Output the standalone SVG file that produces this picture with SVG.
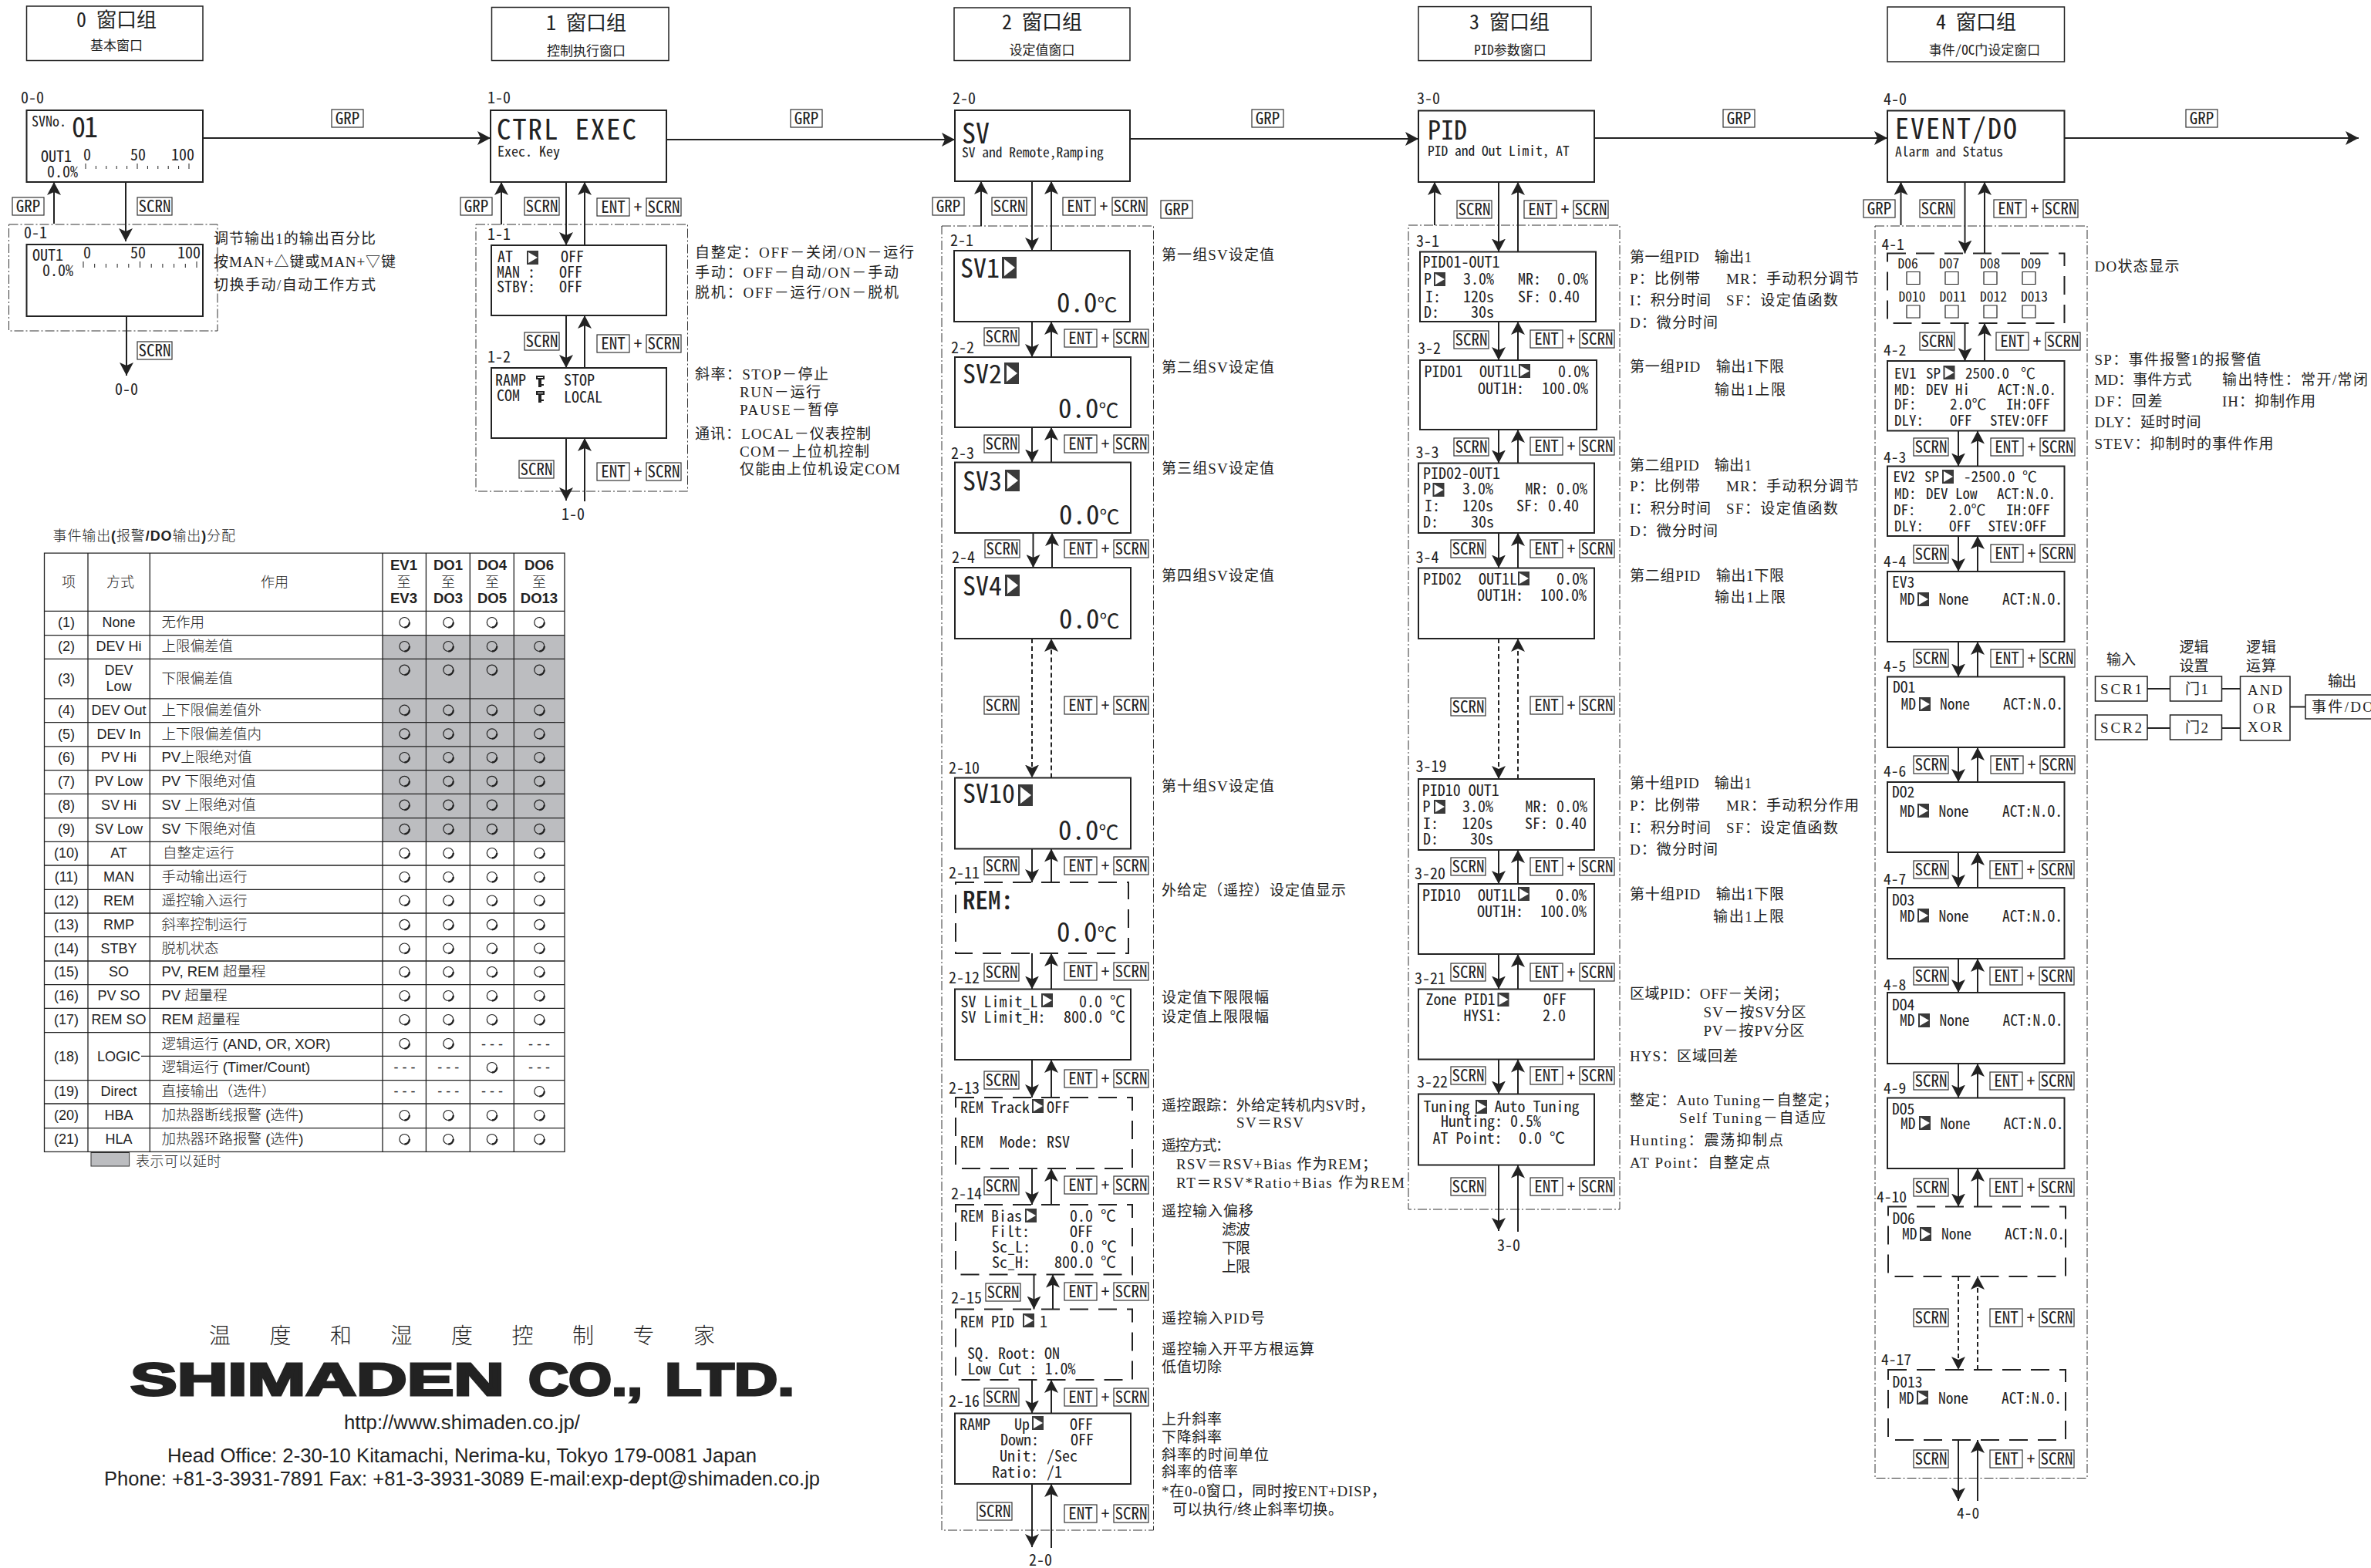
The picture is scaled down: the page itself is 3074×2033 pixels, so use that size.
<svg xmlns="http://www.w3.org/2000/svg" width="3074" height="2033" viewBox="0 0 3074 2033" font-size="20">
<style>
svg{font-family:"Noto Sans CJK JP","Noto Sans CJK SC",sans-serif;font-feature-settings:"hwid";background:#fff}
text{fill:#222}
.n{fill:#fff;stroke:#222;stroke-width:2}
.nd{fill:#fff;stroke:#222;stroke-width:2;stroke-dasharray:24 13}
.b{fill:none;stroke:#333;stroke-width:1;stroke-dasharray:12 3 2 3}
.t{fill:#fff;stroke:#222;stroke-width:1.5}
.tc text{text-anchor:middle}
.tc .s{font-size:26px}
.a{font-family:"Liberation Serif","Noto Sans CJK SC",serif;font-size:19px;font-feature-settings:normal}
#conn path{fill:none;stroke:#222;stroke-width:2;marker-end:url(#ah)}
#conn path.d{stroke-dasharray:6 4}
#conn path.l{marker-end:none}
.K text{text-anchor:middle;font-size:21px}
.K rect{fill:#fff;stroke:#333;stroke-width:1.2}
rect.ks{width:45px;height:23px}
rect.ke{width:42px;height:23px}
rect.kg{width:41px;height:23px}
.T{font-family:"Liberation Sans","Noto Sans CJK SC",sans-serif;font-size:18px;font-feature-settings:normal}
.T .c text,.T .h text{text-anchor:middle}
.T .h text{font-size:18.5px;font-weight:bold}
.T .z text{font-size:18px;font-weight:300}
.T .w text{font-size:18.5px;font-weight:300}
.Lg{font-family:"Liberation Sans",sans-serif;font-size:25px;font-feature-settings:normal;text-anchor:middle}
</style>
<defs>
<marker id="ah" markerUnits="userSpaceOnUse" markerWidth="18" markerHeight="18" refX="17" refY="9" orient="auto"><path d="M0,0L17,9L0,18L4,9Z" fill="#222"/></marker>
<g id="ab"><rect width="19" height="28" fill="#3a3a3a"/><path d="M3,3L17,14L3,25Z" fill="#fff"/></g>
<g id="as"><rect width="15" height="18" fill="#3a3a3a"/><path d="M2,2L14,9L2,16Z" fill="#fff"/></g>
<path id="key" d="M0 0h11v5h-11zM2 2v1h7v-1zM3 5h4v6h3v2h-3v2h-4z" fill-rule="evenodd" fill="#222"/>
<g id="o"><circle r="6.5" fill="none" stroke="#222" stroke-width="1.2"/><path d="M6.5,0A6.5,6.5 0 0 1 0,6.5" fill="none" stroke="#222" stroke-width="2.4"/></g>
<g id="r"><use href="#o" x="524.4"/><use href="#o" x="581.3"/><use href="#o" x="637.8"/><use href="#o" x="699.3"/></g>
</defs>
<g id="frames">
<rect class="b" x="11.5" y="291" width="270.500" height="138"/>
<rect class="b" x="617" y="291" width="274.500" height="346"/>
<rect class="b" x="1221" y="293" width="274.500" height="1691"/>
<rect class="b" x="1826" y="292" width="274" height="1276"/>
<rect class="b" x="2431" y="293" width="275" height="1623.500"/>
</g>
<g class="tc">
<g id="title0"><rect class="t" x="34.500" y="8" width="228.500" height="70.500"/><text x="151" y="35" class="s">0 窗口组</text><text x="151" y="65" font-size="17">基本窗口</text></g>
<g id="title1"><rect class="t" x="637.500" y="9.500" width="229.500" height="69"/><text x="760" y="39" class="s">1 窗口组</text><text x="760" y="72" font-size="17">控制执行窗口</text></g>
<g id="title2"><rect class="t" x="1237" y="10" width="228" height="68.500"/><text x="1351" y="38" class="s">2 窗口组</text><text x="1351" y="71" font-size="17">设定值窗口</text></g>
<g id="title3"><rect class="t" x="1839" y="8.600" width="224" height="70"/><text x="1957" y="38" class="s">3 窗口组</text><text x="1958" y="71" font-size="17">PID参数窗口</text></g>
<g id="title4"><rect class="t" x="2447" y="9" width="229.500" height="71"/><text x="2562" y="38" class="s">4 窗口组</text><text x="2573" y="71" font-size="17">事件/OC门设定窗口</text></g>
</g>
<g id="n0-0"><text x="27" y="134">0-0</text><rect class="n" x="34.500" y="143" width="228.500" height="93"/><text x="41" y="164" font-size="18">SVNo.</text><text x="93" y="178" font-size="36" letter-spacing="-2">01</text><text x="53" y="210">OUT1</text><text x="108" y="208">0</text><text x="169" y="208">50</text><text x="222" y="208">100</text><text x="61" y="230">0.0%</text><path d="M111 212v7M124.400 215v4M137.800 215v4M151.200 215v4M164.600 215v4M178 212v7M191.400 215v4M204.800 215v4M218.200 215v4M231.600 215v4M245 212v7" stroke="#222" fill="none"/></g>
<g id="n0-1"><text x="31" y="309">0-1</text><rect class="n" x="34.500" y="317" width="228.500" height="93"/><text x="42" y="338">OUT1</text><text x="108" y="335">0</text><text x="169" y="335">50</text><text x="230" y="335">100</text><text x="55" y="358">0.0%</text><path d="M108 339v8M122.700 342v5M137.400 342v5M152.100 342v5M166.800 342v5M181.500 339v8M196.200 342v5M210.900 342v5M225.600 342v5M240.300 342v5M255 339v8" stroke="#222" fill="none"/></g>
<text x="149" y="512">0-0</text>
<g id="n1-0"><text x="632" y="134">1-0</text><rect class="n" x="636" y="143" width="228" height="93"/><text x="644" y="181" font-size="37" letter-spacing="1.800">CTRL EXEC</text><text x="645" y="203" font-size="18">Exec. Key</text></g>
<g id="n1-1"><text x="632" y="311">1-1</text><rect class="n" x="637" y="318" width="227" height="91"/><text x="645" y="340">AT</text><use href="#as" x="683" y="325"/><text x="727" y="340">OFF</text><text x="644" y="360">MAN :</text><text x="725" y="360">OFF</text><text x="644" y="379">STBY:</text><text x="725" y="379">OFF</text></g>
<g id="n1-2"><text x="632" y="470">1-2</text><rect class="n" x="637" y="477" width="227" height="91"/><text x="642" y="499.500">RAMP</text><use href="#key" x="695" y="487"/><text x="731" y="499.500">STOP</text><text x="644" y="520">COM</text><use href="#key" x="695" y="507"/><text x="731" y="522">LOCAL</text></g>
<text x="728" y="674">1-0</text>
<g id="n2-0"><text x="1235" y="135">2-0</text><rect class="n" x="1238" y="143" width="227" height="92"/><text x="1247" y="186" font-size="36">SV</text><text x="1247" y="204" font-size="17.500">SV and Remote,Ramping</text></g>
<g id="n2-1"><text x="1232" y="319">2-1</text><rect class="n" x="1237" y="325" width="228" height="92"/><text x="1245" y="360" font-size="34">SV1</text><use href="#ab" x="1299" y="333"/><text x="1370" y="405" font-size="35">0.0<tspan font-size="26">℃</tspan></text></g>
<g id="n2-2"><text x="1233" y="458">2-2</text><rect class="n" x="1238" y="463" width="228" height="91"/><text x="1248" y="497" font-size="34">SV2</text><use href="#ab" x="1302" y="470"/><text x="1372" y="542" font-size="35">0.0<tspan font-size="26">℃</tspan></text></g>
<g id="n2-3"><text x="1233" y="595">2-3</text><rect class="n" x="1238" y="599.500" width="228" height="91.500"/><text x="1248" y="636" font-size="34">SV3</text><use href="#ab" x="1303" y="609"/><text x="1373" y="680" font-size="35">0.0<tspan font-size="26">℃</tspan></text></g>
<g id="n2-4"><text x="1234" y="730">2-4</text><rect class="n" x="1238" y="736" width="228" height="92"/><text x="1248" y="772" font-size="34">SV4</text><use href="#ab" x="1303" y="745"/><text x="1373" y="815" font-size="35">0.0<tspan font-size="26">℃</tspan></text></g>
<g id="n2-10"><text x="1230" y="1003">2-10</text><rect class="n" x="1238" y="1008.500" width="228" height="92"/><text x="1248" y="1041" font-size="34">SV10</text><use href="#ab" x="1320" y="1017"/><text x="1372" y="1089" font-size="35">0.0<tspan font-size="26">℃</tspan></text></g>
<g id="n2-11"><text x="1230" y="1139">2-11</text><rect class="nd" x="1239" y="1144" width="224" height="92"/><text x="1248" y="1179" font-size="33" font-weight="500">REM:</text><text x="1370" y="1221" font-size="35">0.0<tspan font-size="26">℃</tspan></text></g>
<g id="n2-12"><text x="1230" y="1275">2-12</text><rect class="n" x="1238" y="1282.500" width="228" height="91.500"/><text x="1245.500" y="1305.500">SV Limit_L</text><use href="#as" x="1350" y="1288"/><text x="1399" y="1305.500">0.0 ℃</text><text x="1245.500" y="1326">SV Limit_H:</text><text x="1379" y="1326">800.0 ℃</text></g>
<g id="n2-13"><text x="1230" y="1417.500">2-13</text><rect class="nd" x="1239" y="1423" width="229" height="92"/><text x="1245" y="1443">REM Track</text><use href="#as" x="1338" y="1425"/><text x="1357" y="1443">OFF</text><text x="1245" y="1487.500">REM</text><text x="1296" y="1487.500">Mode:</text><text x="1357" y="1487.500">RSV</text></g>
<g id="n2-14"><text x="1233" y="1555">2-14</text><rect class="nd" x="1239" y="1562" width="229" height="90.500"/><text x="1245" y="1584">REM</text><text x="1285" y="1584">Bias</text><use href="#as" x="1329" y="1567"/><text x="1387" y="1584">0.0 ℃</text><text x="1285" y="1604">Filt:</text><text x="1387" y="1604">OFF</text><text x="1286" y="1624">Sc_L:</text><text x="1388" y="1624">0.0 ℃</text><text x="1286" y="1644">Sc_H:</text><text x="1367" y="1644">800.0 ℃</text></g>
<g id="n2-15"><text x="1233" y="1690">2-15</text><rect class="nd" x="1239" y="1697.500" width="229" height="91.500"/><text x="1245" y="1721">REM PID</text><use href="#as" x="1326" y="1703"/><text x="1348" y="1721">1</text><text x="1254" y="1762">SQ. Root: ON</text><text x="1254.500" y="1782">Low Cut : 1.0%</text></g>
<g id="n2-16"><text x="1230" y="1824">2-16</text><rect class="n" x="1238" y="1832.500" width="228" height="91.500"/><text x="1244" y="1854">RAMP</text><text x="1315" y="1854">Up</text><use href="#as" x="1338" y="1836"/><text x="1387" y="1854">OFF</text><text x="1297" y="1874">Down:</text><text x="1388" y="1874">OFF</text><text x="1296" y="1895">Unit:</text><text x="1357" y="1895">/Sec</text><text x="1286" y="1916">Ratio:</text><text x="1357" y="1916">/1</text></g>
<text x="1334" y="2030">2-0</text>
<g id="n3-0"><text x="1837" y="135">3-0</text><rect class="n" x="1839" y="143.500" width="228" height="92.500"/><text x="1851" y="181" font-size="34">PID</text><text x="1851" y="202" font-size="17.500">PID and Out Limit, AT</text></g>
<g id="n3-1"><text x="1836" y="320">3-1</text><rect class="n" x="1841" y="326.500" width="228" height="90.500"/><text x="1844.500" y="347">PID01-OUT1</text><text x="1846" y="369">P</text><use href="#as" x="1859" y="353"/><text x="1897" y="369">3.0%</text><text x="1968" y="369">MR:</text><text x="2019" y="369">0.0%</text><text x="1848" y="392">I:</text><text x="1897" y="392">120s</text><text x="1968" y="392">SF:</text><text x="2008" y="392">0.40</text><text x="1846" y="412">D:</text><text x="1907" y="412">30s</text></g>
<g id="n3-2"><text x="1838" y="459">3-2</text><rect class="n" x="1841" y="467" width="229" height="90"/><text x="1846.500" y="489">PID01</text><text x="1918" y="489">OUT1L</text><use href="#as" x="1969" y="472"/><text x="2020" y="489">0.0%</text><text x="1916" y="511">OUT1H:</text><text x="1999" y="511">100.0%</text></g>
<g id="n3-3"><text x="1835.500" y="593.500">3-3</text><rect class="n" x="1839" y="600.500" width="228" height="90.500"/><text x="1845" y="621">PID02-OUT1</text><text x="1845" y="641">P</text><use href="#as" x="1857.500" y="626"/><text x="1896" y="641">3.0%</text><text x="1977.500" y="641">MR:</text><text x="2018" y="641">0.0%</text><text x="1847" y="663">I:</text><text x="1896" y="663">120s</text><text x="1966" y="663">SF:</text><text x="2007" y="663">0.40</text><text x="1845" y="684">D:</text><text x="1907" y="684">30s</text></g>
<g id="n3-4"><text x="1835.500" y="730">3-4</text><rect class="n" x="1839" y="736.500" width="228" height="91.500"/><text x="1845" y="758">PID02</text><text x="1917" y="758">OUT1L</text><use href="#as" x="1968" y="741"/><text x="2018" y="758">0.0%</text><text x="1915" y="779">OUT1H:</text><text x="1997" y="779">100.0%</text></g>
<g id="n3-19"><text x="1835.500" y="1001">3-19</text><rect class="n" x="1839" y="1010" width="228" height="92"/><text x="1843.700" y="1032">PID10 OUT1</text><text x="1844.500" y="1053">P</text><use href="#as" x="1859" y="1037"/><text x="1896" y="1053">3.0%</text><text x="1977.500" y="1053">MR:</text><text x="2018" y="1053">0.0%</text><text x="1845" y="1074.500">I:</text><text x="1895.500" y="1074.500">120s</text><text x="1977" y="1074.500">SF:</text><text x="2017" y="1074.500">0.40</text><text x="1845" y="1095">D:</text><text x="1906" y="1095">30s</text></g>
<g id="n3-20"><text x="1834" y="1140">3-20</text><rect class="n" x="1839" y="1146" width="228" height="91"/><text x="1844" y="1167.500">PID10</text><text x="1916" y="1167.500">OUT1L</text><use href="#as" x="1968" y="1150"/><text x="2017" y="1167.500">0.0%</text><text x="1915" y="1189">OUT1H:</text><text x="1997" y="1189">100.0%</text></g>
<g id="n3-21"><text x="1834" y="1275.500">3-21</text><rect class="n" x="1839" y="1282.500" width="228" height="91"/><text x="1848.500" y="1303">Zone PID1</text><use href="#as" x="1941.500" y="1287"/><text x="2001" y="1303">OFF</text><text x="1897.500" y="1324">HYS1:</text><text x="2000" y="1324">2.0</text></g>
<g id="n3-22"><text x="1837" y="1410">3-22</text><rect class="n" x="1839" y="1418.500" width="228" height="92"/><text x="1845.500" y="1441.500">Tuning</text><use href="#as" x="1913" y="1426"/><text x="1937.500" y="1441.500">Auto Tuning</text><text x="1868" y="1461">Hunting: 0.5%</text><text x="1857.500" y="1483">AT Point:</text><text x="1969" y="1483">0.0 ℃</text></g>
<text x="1941" y="1622">3-0</text>
<g id="n4-0"><text x="2442" y="136">4-0</text><rect class="n" x="2447" y="143.500" width="229.500" height="92.500"/><text x="2457" y="180" font-size="36" letter-spacing="2">EVENT/DO</text><text x="2457" y="203" font-size="17.500">Alarm and Status</text></g>
<g id="n4-1" font-size="17.500"><text x="2439.500" y="324" font-size="19.500">4-1</text><rect class="nd" x="2447" y="328.500" width="229.500" height="90.500"/><text x="2460.500" y="347.500">D06</text><text x="2514" y="347.500">D07</text><text x="2567" y="347.500">D08</text><text x="2620" y="347.500">D09</text><text x="2461.500" y="391">D010</text><text x="2514.500" y="391">D011</text><text x="2567" y="391">D012</text><text x="2620" y="391">D013</text><path d="M2472 352.500h17v16h-17zM2522 352.500h17v16h-17zM2572 352.500h17v16h-17zM2622 352.500h17v16h-17zM2472 396h17v16h-17zM2522 396h17v16h-17zM2572 396h17v16h-17zM2622 396h17v16h-17z" fill="none" stroke="#222" stroke-width="1.200"/></g>
<g id="n4-2" font-size="19"><text x="2442" y="461" font-size="19.500">4-2</text><rect class="n" x="2447" y="468" width="229.500" height="90.500"/><text x="2456" y="491">EV1</text><text x="2497" y="491">SP</text><use href="#as" x="2519.500" y="474"/><text x="2548" y="491">2500.0</text><text x="2620" y="491">℃</text><text x="2456" y="511.500">MD:</text><text x="2497" y="511.500">DEV Hi</text><text x="2590" y="511.500">ACT:N.O.</text><text x="2456" y="531">DF:</text><text x="2528" y="531">2.0℃</text><text x="2601" y="531">IH:OFF</text><text x="2456" y="551.500">DLY:</text><text x="2528" y="551.500">OFF</text><text x="2580" y="551.500">STEV:OFF</text></g>
<g id="n4-3" font-size="19"><text x="2442" y="599.500" font-size="19.500">4-3</text><rect class="n" x="2447" y="604.500" width="229.500" height="90.500"/><text x="2454.500" y="625">EV2</text><text x="2495" y="625">SP</text><use href="#as" x="2518" y="609"/><text x="2546" y="625">-2500.0</text><text x="2622" y="625">℃</text><text x="2456" y="647">MD:</text><text x="2497" y="647">DEV Low</text><text x="2589" y="647">ACT:N.O.</text><text x="2455" y="667.500">DF:</text><text x="2527" y="667.500">2.0℃</text><text x="2601" y="667.500">IH:OFF</text><text x="2456" y="688.500">DLY:</text><text x="2527" y="688.500">OFF</text><text x="2577.500" y="688.500">STEV:OFF</text></g>
<g id="n4-4" font-size="19.500"><text x="2442" y="734.500">4-4</text><rect class="n" x="2447" y="741" width="229.500" height="91"/><text x="2453" y="762">EV3</text><text x="2463" y="784">MD</text><use href="#as" x="2486" y="768"/><text x="2513.500" y="784">None</text><text x="2596" y="784">ACT:N.O.</text></g>
<g id="n4-5" font-size="19.500"><text x="2442" y="870.500">4-5</text><rect class="n" x="2447" y="877.500" width="229.500" height="91.500"/><text x="2454" y="898">DO1</text><text x="2464.500" y="920">MD</text><use href="#as" x="2488" y="904"/><text x="2515" y="920">None</text><text x="2597" y="920">ACT:N.O.</text></g>
<g id="n4-6" font-size="19.500"><text x="2442" y="1007">4-6</text><rect class="n" x="2447" y="1014" width="229.500" height="91"/><text x="2453" y="1034">DO2</text><text x="2463" y="1058.500">MD</text><use href="#as" x="2486" y="1042"/><text x="2513.500" y="1058.500">None</text><text x="2596" y="1058.500">ACT:N.O.</text></g>
<g id="n4-7" font-size="19.500"><text x="2442" y="1146.500">4-7</text><rect class="n" x="2447" y="1151" width="229.500" height="92"/><text x="2453" y="1173.500">DO3</text><text x="2463" y="1194.500">MD</text><use href="#as" x="2486" y="1178"/><text x="2513.500" y="1194.500">None</text><text x="2596" y="1194.500">ACT:N.O.</text></g>
<g id="n4-8" font-size="19.500"><text x="2442" y="1284">4-8</text><rect class="n" x="2447" y="1287" width="229.500" height="92"/><text x="2453" y="1310">DO4</text><text x="2463" y="1330">MD</text><use href="#as" x="2487" y="1314"/><text x="2514.500" y="1330">None</text><text x="2596.500" y="1330">ACT:N.O.</text></g>
<g id="n4-9" font-size="19.500"><text x="2442" y="1418">4-9</text><rect class="n" x="2447" y="1423.500" width="229.500" height="91.500"/><text x="2453" y="1444.500">DO5</text><text x="2464" y="1463.500">MD</text><use href="#as" x="2488" y="1447"/><text x="2515.500" y="1463.500">None</text><text x="2597.500" y="1463.500">ACT:N.O.</text></g>
<g id="n4-10" font-size="19.500"><text x="2433" y="1559">4-10</text><rect class="nd" x="2448" y="1564.500" width="230" height="90.500"/><text x="2453.500" y="1587">DO6</text><text x="2466" y="1607">MD</text><use href="#as" x="2489" y="1591"/><text x="2517" y="1607">None</text><text x="2599" y="1607">ACT:N.O.</text></g>
<g id="n4-17" font-size="19.500"><text x="2439" y="1770">4-17</text><rect class="nd" x="2448" y="1776" width="230" height="91"/><text x="2453.500" y="1798.500">D013</text><text x="2462" y="1819.500">MD</text><use href="#as" x="2485" y="1803"/><text x="2513" y="1819.500">None</text><text x="2595" y="1819.500">ACT:N.O.</text></g>
<text x="2537" y="1969" font-size="19.500">4-0</text>
<g id="conn">
<path d="M263 179H636"/><path d="M864 181H1238"/><path d="M1465 180H1839"/><path d="M2067 179H2447"/><path d="M2676 179H3058"/>
<path d="M70 290V236"/><path d="M163 236V313"/><path d="M164 410V487"/>
<path d="M650 291V236"/><path d="M734 236V318"/><path d="M758 318V236"/><path d="M734 409V477"/><path d="M758 477V409"/><path d="M734 568V649"/><path d="M758 650V568"/>
<path d="M1272 293V235"/><path d="M1338 235V325"/><path d="M1363 325V235"/>
<path d="M1338 417V463"/><path d="M1363 463V417"/><path d="M1338 554V599.500"/><path d="M1363 599.500V554"/><path d="M1339.500 691V736"/><path d="M1364 736V691"/>
<path class="d" d="M1338 828V1008.500"/><path class="d" d="M1363 1008.500V828"/>
<path d="M1338 1100.500V1144"/><path d="M1363 1144V1100.500"/><path d="M1338 1236V1282.500"/><path d="M1363 1282.500V1236"/><path d="M1338 1374V1423"/><path d="M1363 1423V1374"/><path d="M1338 1515V1562"/><path d="M1363 1562V1515"/><path d="M1340.500 1652.500V1697.500"/><path d="M1365 1697.500V1652.500"/><path d="M1338 1789V1832.500"/><path d="M1363 1832.500V1789"/><path d="M1338 1924V2006"/><path d="M1363 2007V1924"/>
<path d="M1860 292V236"/><path d="M1943 236V326.500"/><path d="M1968 326.500V236"/><path d="M1943 417V467"/><path d="M1968 467V417"/><path d="M1943 557V600.500"/><path d="M1968 600.500V557"/><path d="M1943 691V736.500"/><path d="M1968 736.500V691"/>
<path class="d" d="M1943 828V1010"/><path class="d" d="M1968 1010V828"/>
<path d="M1943 1102V1146"/><path d="M1968 1146V1102"/><path d="M1943 1237V1282.500"/><path d="M1968 1282.500V1237"/><path d="M1943 1373.500V1418.500"/><path d="M1968 1418.500V1373.500"/><path d="M1943 1510.500V1596"/><path d="M1968 1597V1510.500"/>
<path d="M2464.500 292V236"/><path d="M2547.500 236V328.500"/><path d="M2573 328.500V236"/><path d="M2547.500 419V468"/><path d="M2573 468V419"/>
<path d="M2539 558.500V604.500"/><path d="M2564 604.500V558.500"/><path d="M2539 695V741"/><path d="M2564 741V695"/><path d="M2539 832V877.500"/><path d="M2564 877.500V832"/><path d="M2539 969V1014"/><path d="M2564 1014V969"/><path d="M2539 1105V1151"/><path d="M2564 1151V1105"/><path d="M2539 1243V1287"/><path d="M2564 1287V1243"/><path d="M2539 1379V1423.500"/><path d="M2564 1423.500V1379"/><path d="M2539 1515V1564.500"/><path d="M2564 1564.500V1515"/>
<path class="d" d="M2539 1655V1776"/><path class="d" d="M2564 1776V1655"/><path d="M2539 1867V1946"/><path d="M2564 1946V1867"/>
<path class="l" d="M2784 893H2813.500"/><path class="l" d="M2880.500 893H2904.500"/><path class="l" d="M2784 944H2813.500"/><path class="l" d="M2880.500 944H2904.500"/><path class="l" d="M2969 916.500H2989"/>
</g>
<g id="keys" class="K">
<g transform="translate(430,142)"><rect class="kg"/><text x="20.500" y="18.500">GRP</text></g>
<g transform="translate(1025,142)"><rect class="kg"/><text x="20.500" y="18.500">GRP</text></g>
<g transform="translate(1623,142)"><rect class="kg"/><text x="20.500" y="18.500">GRP</text></g>
<g transform="translate(2234,142)"><rect class="kg"/><text x="20.500" y="18.500">GRP</text></g>
<g transform="translate(2834,142)"><rect class="kg"/><text x="20.500" y="18.500">GRP</text></g>
<g transform="translate(16,256)"><rect class="kg"/><text x="20.500" y="18.500">GRP</text></g>
<g transform="translate(597,256)"><rect class="kg"/><text x="20.500" y="18.500">GRP</text></g>
<g transform="translate(1209,256)"><rect class="kg"/><text x="20.500" y="18.500">GRP</text></g>
<g transform="translate(1505,260)"><rect class="kg"/><text x="20.500" y="18.500">GRP</text></g>
<g transform="translate(2416,259)"><rect class="kg"/><text x="20.500" y="18.500">GRP</text></g>
<g transform="translate(178,256)"><rect class="ks"/><text x="22.500" y="18.500">SCRN</text></g>
<g transform="translate(178,443)"><rect class="ks"/><text x="22.500" y="18.500">SCRN</text></g>
<g transform="translate(680,256)"><rect class="ks"/><text x="22.500" y="18.500">SCRN</text></g>
<g transform="translate(680,431)"><rect class="ks"/><text x="22.500" y="18.500">SCRN</text></g>
<g transform="translate(673,597)"><rect class="ks"/><text x="22.500" y="18.500">SCRN</text></g>
<g transform="translate(1286,256)"><rect class="ks"/><text x="22.500" y="18.500">SCRN</text></g>
<g transform="translate(1276,425)"><rect class="ks"/><text x="22.500" y="18.500">SCRN</text></g>
<g transform="translate(1276,564)"><rect class="ks"/><text x="22.500" y="18.500">SCRN</text></g>
<g transform="translate(1277,700)"><rect class="ks"/><text x="22.500" y="18.500">SCRN</text></g>
<g transform="translate(1276,903)"><rect class="ks"/><text x="22.500" y="18.500">SCRN</text></g>
<g transform="translate(1276,1111)"><rect class="ks"/><text x="22.500" y="18.500">SCRN</text></g>
<g transform="translate(1276,1249)"><rect class="ks"/><text x="22.500" y="18.500">SCRN</text></g>
<g transform="translate(1276,1389)"><rect class="ks"/><text x="22.500" y="18.500">SCRN</text></g>
<g transform="translate(1276,1526)"><rect class="ks"/><text x="22.500" y="18.500">SCRN</text></g>
<g transform="translate(1278,1664)"><rect class="ks"/><text x="22.500" y="18.500">SCRN</text></g>
<g transform="translate(1276,1800)"><rect class="ks"/><text x="22.500" y="18.500">SCRN</text></g>
<g transform="translate(1267,1948)"><rect class="ks"/><text x="22.500" y="18.500">SCRN</text></g>
<g transform="translate(1889,260)"><rect class="ks"/><text x="22.500" y="18.500">SCRN</text></g>
<g transform="translate(1885,429)"><rect class="ks"/><text x="22.500" y="18.500">SCRN</text></g>
<g transform="translate(1885,568)"><rect class="ks"/><text x="22.500" y="18.500">SCRN</text></g>
<g transform="translate(1881,700)"><rect class="ks"/><text x="22.500" y="18.500">SCRN</text></g>
<g transform="translate(1881,905)"><rect class="ks"/><text x="22.500" y="18.500">SCRN</text></g>
<g transform="translate(1881,1112)"><rect class="ks"/><text x="22.500" y="18.500">SCRN</text></g>
<g transform="translate(1881,1249)"><rect class="ks"/><text x="22.500" y="18.500">SCRN</text></g>
<g transform="translate(1881,1383)"><rect class="ks"/><text x="22.500" y="18.500">SCRN</text></g>
<g transform="translate(1881,1527)"><rect class="ks"/><text x="22.500" y="18.500">SCRN</text></g>
<g transform="translate(2489,259)"><rect class="ks"/><text x="22.500" y="18.500">SCRN</text></g>
<g transform="translate(2489,431)"><rect class="ks"/><text x="22.500" y="18.500">SCRN</text></g>
<g transform="translate(2481,568)"><rect class="ks"/><text x="22.500" y="18.500">SCRN</text></g>
<g transform="translate(2481,707)"><rect class="ks"/><text x="22.500" y="18.500">SCRN</text></g>
<g transform="translate(2481,842)"><rect class="ks"/><text x="22.500" y="18.500">SCRN</text></g>
<g transform="translate(2481,980)"><rect class="ks"/><text x="22.500" y="18.500">SCRN</text></g>
<g transform="translate(2481,1116)"><rect class="ks"/><text x="22.500" y="18.500">SCRN</text></g>
<g transform="translate(2481,1254)"><rect class="ks"/><text x="22.500" y="18.500">SCRN</text></g>
<g transform="translate(2481,1390)"><rect class="ks"/><text x="22.500" y="18.500">SCRN</text></g>
<g transform="translate(2481,1528)"><rect class="ks"/><text x="22.500" y="18.500">SCRN</text></g>
<g transform="translate(2481,1697)"><rect class="ks"/><text x="22.500" y="18.500">SCRN</text></g>
<g transform="translate(2481,1880)"><rect class="ks"/><text x="22.500" y="18.500">SCRN</text></g>
<g transform="translate(774,257)"><rect class="ke"/><text x="21" y="18.500">ENT</text><text x="53" y="18.500">+</text><rect class="ks" x="64"/><text x="86.500" y="18.500">SCRN</text></g>
<g transform="translate(774,434)"><rect class="ke"/><text x="21" y="18.500">ENT</text><text x="53" y="18.500">+</text><rect class="ks" x="64"/><text x="86.500" y="18.500">SCRN</text></g>
<g transform="translate(774,600)"><rect class="ke"/><text x="21" y="18.500">ENT</text><text x="53" y="18.500">+</text><rect class="ks" x="64"/><text x="86.500" y="18.500">SCRN</text></g>
<g transform="translate(1378,256)"><rect class="ke"/><text x="21" y="18.500">ENT</text><text x="53" y="18.500">+</text><rect class="ks" x="64"/><text x="86.500" y="18.500">SCRN</text></g>
<g transform="translate(1380,427)"><rect class="ke"/><text x="21" y="18.500">ENT</text><text x="53" y="18.500">+</text><rect class="ks" x="64"/><text x="86.500" y="18.500">SCRN</text></g>
<g transform="translate(1380,564)"><rect class="ke"/><text x="21" y="18.500">ENT</text><text x="53" y="18.500">+</text><rect class="ks" x="64"/><text x="86.500" y="18.500">SCRN</text></g>
<g transform="translate(1380,700)"><rect class="ke"/><text x="21" y="18.500">ENT</text><text x="53" y="18.500">+</text><rect class="ks" x="64"/><text x="86.500" y="18.500">SCRN</text></g>
<g transform="translate(1380,903)"><rect class="ke"/><text x="21" y="18.500">ENT</text><text x="53" y="18.500">+</text><rect class="ks" x="64"/><text x="86.500" y="18.500">SCRN</text></g>
<g transform="translate(1380,1111)"><rect class="ke"/><text x="21" y="18.500">ENT</text><text x="53" y="18.500">+</text><rect class="ks" x="64"/><text x="86.500" y="18.500">SCRN</text></g>
<g transform="translate(1380,1248)"><rect class="ke"/><text x="21" y="18.500">ENT</text><text x="53" y="18.500">+</text><rect class="ks" x="64"/><text x="86.500" y="18.500">SCRN</text></g>
<g transform="translate(1380,1387)"><rect class="ke"/><text x="21" y="18.500">ENT</text><text x="53" y="18.500">+</text><rect class="ks" x="64"/><text x="86.500" y="18.500">SCRN</text></g>
<g transform="translate(1380,1525)"><rect class="ke"/><text x="21" y="18.500">ENT</text><text x="53" y="18.500">+</text><rect class="ks" x="64"/><text x="86.500" y="18.500">SCRN</text></g>
<g transform="translate(1380,1663)"><rect class="ke"/><text x="21" y="18.500">ENT</text><text x="53" y="18.500">+</text><rect class="ks" x="64"/><text x="86.500" y="18.500">SCRN</text></g>
<g transform="translate(1380,1800)"><rect class="ke"/><text x="21" y="18.500">ENT</text><text x="53" y="18.500">+</text><rect class="ks" x="64"/><text x="86.500" y="18.500">SCRN</text></g>
<g transform="translate(1380,1951)"><rect class="ke"/><text x="21" y="18.500">ENT</text><text x="53" y="18.500">+</text><rect class="ks" x="64"/><text x="86.500" y="18.500">SCRN</text></g>
<g transform="translate(1976,260)"><rect class="ke"/><text x="21" y="18.500">ENT</text><text x="53" y="18.500">+</text><rect class="ks" x="64"/><text x="86.500" y="18.500">SCRN</text></g>
<g transform="translate(1984,428)"><rect class="ke"/><text x="21" y="18.500">ENT</text><text x="53" y="18.500">+</text><rect class="ks" x="64"/><text x="86.500" y="18.500">SCRN</text></g>
<g transform="translate(1984,567)"><rect class="ke"/><text x="21" y="18.500">ENT</text><text x="53" y="18.500">+</text><rect class="ks" x="64"/><text x="86.500" y="18.500">SCRN</text></g>
<g transform="translate(1984,700)"><rect class="ke"/><text x="21" y="18.500">ENT</text><text x="53" y="18.500">+</text><rect class="ks" x="64"/><text x="86.500" y="18.500">SCRN</text></g>
<g transform="translate(1984,903)"><rect class="ke"/><text x="21" y="18.500">ENT</text><text x="53" y="18.500">+</text><rect class="ks" x="64"/><text x="86.500" y="18.500">SCRN</text></g>
<g transform="translate(1984,1112)"><rect class="ke"/><text x="21" y="18.500">ENT</text><text x="53" y="18.500">+</text><rect class="ks" x="64"/><text x="86.500" y="18.500">SCRN</text></g>
<g transform="translate(1984,1249)"><rect class="ke"/><text x="21" y="18.500">ENT</text><text x="53" y="18.500">+</text><rect class="ks" x="64"/><text x="86.500" y="18.500">SCRN</text></g>
<g transform="translate(1984,1383)"><rect class="ke"/><text x="21" y="18.500">ENT</text><text x="53" y="18.500">+</text><rect class="ks" x="64"/><text x="86.500" y="18.500">SCRN</text></g>
<g transform="translate(1984,1527)"><rect class="ke"/><text x="21" y="18.500">ENT</text><text x="53" y="18.500">+</text><rect class="ks" x="64"/><text x="86.500" y="18.500">SCRN</text></g>
<g transform="translate(2585,259)"><rect class="ke"/><text x="21" y="18.500">ENT</text><text x="53" y="18.500">+</text><rect class="ks" x="64"/><text x="86.500" y="18.500">SCRN</text></g>
<g transform="translate(2588,431)"><rect class="ke"/><text x="21" y="18.500">ENT</text><text x="53" y="18.500">+</text><rect class="ks" x="64"/><text x="86.500" y="18.500">SCRN</text></g>
<g transform="translate(2581,568)"><rect class="ke"/><text x="21" y="18.500">ENT</text><text x="53" y="18.500">+</text><rect class="ks" x="64"/><text x="86.500" y="18.500">SCRN</text></g>
<g transform="translate(2581,706)"><rect class="ke"/><text x="21" y="18.500">ENT</text><text x="53" y="18.500">+</text><rect class="ks" x="64"/><text x="86.500" y="18.500">SCRN</text></g>
<g transform="translate(2581,842)"><rect class="ke"/><text x="21" y="18.500">ENT</text><text x="53" y="18.500">+</text><rect class="ks" x="64"/><text x="86.500" y="18.500">SCRN</text></g>
<g transform="translate(2581,980)"><rect class="ke"/><text x="21" y="18.500">ENT</text><text x="53" y="18.500">+</text><rect class="ks" x="64"/><text x="86.500" y="18.500">SCRN</text></g>
<g transform="translate(2580,1116)"><rect class="ke"/><text x="21" y="18.500">ENT</text><text x="53" y="18.500">+</text><rect class="ks" x="64"/><text x="86.500" y="18.500">SCRN</text></g>
<g transform="translate(2580,1254)"><rect class="ke"/><text x="21" y="18.500">ENT</text><text x="53" y="18.500">+</text><rect class="ks" x="64"/><text x="86.500" y="18.500">SCRN</text></g>
<g transform="translate(2580,1390)"><rect class="ke"/><text x="21" y="18.500">ENT</text><text x="53" y="18.500">+</text><rect class="ks" x="64"/><text x="86.500" y="18.500">SCRN</text></g>
<g transform="translate(2580,1528)"><rect class="ke"/><text x="21" y="18.500">ENT</text><text x="53" y="18.500">+</text><rect class="ks" x="64"/><text x="86.500" y="18.500">SCRN</text></g>
<g transform="translate(2580,1697)"><rect class="ke"/><text x="21" y="18.500">ENT</text><text x="53" y="18.500">+</text><rect class="ks" x="64"/><text x="86.500" y="18.500">SCRN</text></g>
<g transform="translate(2580,1880)"><rect class="ke"/><text x="21" y="18.500">ENT</text><text x="53" y="18.500">+</text><rect class="ks" x="64"/><text x="86.500" y="18.500">SCRN</text></g>
</g>
<g id="notes" class="a">
<text x="277" y="316" textLength="210">调节输出1的输出百分比</text><text x="277" y="346" textLength="236">按MAN+△键或MAN+▽键</text><text x="277" y="376" textLength="210">切换手动/自动工作方式</text>
<text x="901" y="334" textLength="284">自整定：OFF－关闭/ON－运行</text><text x="901" y="360" textLength="264">手动：OFF－自动/ON－手动</text><text x="901" y="386" textLength="264">脱机：OFF－运行/ON－脱机</text><text x="901" y="492" textLength="173">斜率：STOP－停止</text><text x="959" y="515" textLength="105">RUN－运行</text><text x="959" y="538" textLength="128">PAUSE－暂停</text><text x="901" y="569" textLength="228">通讯：LOCAL－仪表控制</text><text x="959" y="592" textLength="168">COM－上位机控制</text><text x="959" y="615" textLength="208">仅能由上位机设定COM</text>
<text x="1506" y="337" textLength="146">第一组SV设定值</text><text x="1506" y="483" textLength="146">第二组SV设定值</text><text x="1506" y="614" textLength="146">第三组SV设定值</text><text x="1506" y="753" textLength="146">第四组SV设定值</text><text x="1506" y="1026" textLength="146">第十组SV设定值</text>
<text x="1506" y="1161" textLength="239">外给定（遥控）设定值显示</text><text x="1506" y="1300" textLength="139">设定值下限限幅</text><text x="1506" y="1325" textLength="139">设定值上限限幅</text><text x="1506" y="1439.500" textLength="276">遥控跟踪：外给定转机内SV时，</text><text x="1603" y="1462" textLength="87">SV＝RSV</text><text x="1506" y="1492" textLength="89">遥控方式：</text><text x="1525" y="1516" textLength="260">RSV＝RSV+Bias 作为REM；</text><text x="1525" y="1539.500" textLength="296">RT＝RSV*Ratio+Bias 作为REM</text>
<text x="1506" y="1577" textLength="119">遥控输入偏移</text><text x="1584" y="1601" textLength="37">滤波</text><text x="1584" y="1625" textLength="37">下限</text><text x="1584" y="1649" textLength="37">上限</text><text x="1506" y="1716" textLength="134">遥控输入PID号</text><text x="1506" y="1756" textLength="198">遥控输入开平方根运算</text><text x="1506" y="1779" textLength="78">低值切除</text><text x="1506" y="1847" textLength="78">上升斜率</text><text x="1506" y="1869.500" textLength="78">下降斜率</text><text x="1506" y="1893" textLength="139">斜率的时间单位</text><text x="1506" y="1914.500" textLength="99">斜率的倍率</text><text x="1506" y="1939.500" textLength="291">*在0-0窗口，同时按ENT+DISP，</text><text x="1520" y="1964" textLength="221">可以执行/终止斜率切换。</text>
<text x="2113" y="340" textLength="158">第一组PID　输出1</text><text x="2113" y="367.500" textLength="91">P：比例带</text><text x="2238" y="367.500" textLength="172">MR：手动积分调节</text><text x="2113" y="396" textLength="105">I：积分时间</text><text x="2238" y="396" textLength="145">SF：设定值函数</text><text x="2113" y="425" textLength="114">D：微分时间</text><text x="2113" y="482" textLength="200">第一组PID　输出1下限</text><text x="2223" y="512" textLength="92">输出1上限</text>
<text x="2113" y="610" textLength="158">第二组PID　输出1</text><text x="2113" y="637" textLength="91">P：比例带</text><text x="2238" y="637" textLength="172">MR：手动积分调节</text><text x="2113" y="666" textLength="105">I：积分时间</text><text x="2238" y="666" textLength="145">SF：设定值函数</text><text x="2113" y="695" textLength="114">D：微分时间</text><text x="2113" y="753" textLength="200">第二组PID　输出1下限</text><text x="2223" y="781" textLength="92">输出1上限</text>
<text x="2113" y="1022" textLength="158">第十组PID　输出1</text><text x="2113" y="1051" textLength="91">P：比例带</text><text x="2238" y="1051" textLength="172">MR：手动积分作用</text><text x="2113" y="1079.500" textLength="105">I：积分时间</text><text x="2238" y="1079.500" textLength="145">SF：设定值函数</text><text x="2113" y="1107.500" textLength="114">D：微分时间</text><text x="2113" y="1166" textLength="200">第十组PID　输出1下限</text><text x="2221" y="1195" textLength="92">输出1上限</text>
<text x="2113" y="1295" textLength="205">区域PID：OFF－关闭；</text><text x="2208.500" y="1319" textLength="133">SV－按SV分区</text><text x="2208.500" y="1343" textLength="131">PV－按PV分区</text><text x="2113" y="1376" textLength="140">HYS：区域回差</text><text x="2113" y="1433" textLength="270">整定：Auto Tuning－自整定；</text><text x="2177" y="1456" textLength="190">Self Tuning－自适应</text><text x="2113" y="1485" textLength="199">Hunting：震荡抑制点</text><text x="2113" y="1514" textLength="182">AT Point：自整定点</text>
<text x="2715.500" y="351.500" textLength="110">DO状态显示</text><text x="2715.500" y="473" textLength="216">SP：事件报警1的报警值</text><text x="2715.500" y="499" textLength="126">MD：事件方式</text><text x="2881" y="499" textLength="189">输出特性：常开/常闭</text><text x="2715.500" y="527" textLength="88">DF：回差</text><text x="2881" y="527" textLength="121">IH：抑制作用</text><text x="2715.500" y="553.500" textLength="138">DLY：延时时间</text><text x="2715.500" y="581.500" textLength="232">STEV：抑制时的事件作用</text>
<g id="logic">
<text x="2731" y="861.500" textLength="38">输入</text><text x="2825.500" y="846" textLength="38">逻辑</text><text x="2825.500" y="870" textLength="38">设置</text><text x="2912" y="846" textLength="39">逻辑</text><text x="2912" y="870" textLength="39">运算</text><text x="3018" y="889.500" textLength="37">输出</text>
</g>
</g>
<g id="scr1" class="a"><rect class="t" x="2716.500" y="877" width="67.500" height="32"/><text x="2723" y="900" textLength="54">SCR1</text></g>
<g id="scr2" class="a"><rect class="t" x="2716.500" y="927" width="67.500" height="32"/><text x="2723" y="950" textLength="54">SCR2</text></g>
<g id="gate1" class="a"><rect class="t" x="2813.500" y="877" width="67" height="32"/><text x="2833" y="900" textLength="30">门1</text></g>
<g id="gate2" class="a"><rect class="t" x="2813.500" y="927" width="67" height="32"/><text x="2833" y="950" textLength="30">门2</text></g>
<g id="op" class="a"><rect class="t" x="2904.500" y="877" width="64.500" height="83"/><text x="2914" y="901" textLength="45">AND</text><text x="2921" y="925" textLength="30">OR</text><text x="2914" y="949" textLength="45">XOR</text></g>
<g id="out" class="a"><rect class="t" x="2989" y="901" width="90" height="31"/><text x="2997" y="923" textLength="80">事件/DO</text></g>
<g id="table" class="T">
<text x="68.500" y="701" font-weight="300" font-size="18" textLength="236.500">事件输出<tspan font-weight="bold">(</tspan>报警<tspan font-weight="bold">/DO</tspan>输出<tspan font-weight="bold">)</tspan>分配</text>
<rect x="496" y="823.600" width="236" height="267.700" fill="#bcbdc0"/>
<path d="M57.500 717.200H732V1493.400H57.500ZM114 717.200V1493.400M194.300 717.200V1493.400M496 717.200V1493.400M552.400 717.200V1493.400M609.300 717.200V1493.400M666.300 717.200V1493.400M57.500 792.300H732M57.500 823.600H732M57.500 854.300H732M57.500 905.900H732M57.500 936.600H732M57.500 967.900H732M57.500 998.600H732M57.500 1029.300H732M57.500 1060.600H732M57.500 1091.300H732M57.500 1122H732M57.500 1153.300H732M57.500 1184H732M57.500 1214.700H732M57.500 1246H732M57.500 1276.700H732M57.500 1307.400H732M57.500 1338.700H732M183 1369.400H732M57.500 1400.700H732M57.500 1431H732M57.500 1462.600H732" fill="none" stroke="#222" stroke-width="1.300"/>
<g class="c z"><text x="89" y="761">项</text><text x="156" y="761">方式</text><text x="356" y="761">作用</text><text x="523.500" y="761">至</text><text x="581" y="761">至</text><text x="638" y="761">至</text><text x="699" y="761">至</text></g>
<g class="h"><text x="523.500" y="739">EV1</text><text x="523.500" y="782">EV3</text><text x="581" y="739">DO1</text><text x="581" y="782">DO3</text><text x="638" y="739">DO4</text><text x="638" y="782">DO5</text><text x="699" y="739">DO6</text><text x="699" y="782">DO13</text></g>
<g class="c">
<text x="86" y="813">(1)</text><text x="86" y="844">(2)</text><text x="86" y="885.500">(3)</text><text x="86" y="927">(4)</text><text x="86" y="957.500">(5)</text><text x="86" y="988">(6)</text><text x="86" y="1019">(7)</text><text x="86" y="1050">(8)</text><text x="86" y="1081">(9)</text><text x="86" y="1112">(10)</text><text x="86" y="1143">(11)</text><text x="86" y="1173.500">(12)</text><text x="86" y="1205">(13)</text><text x="86" y="1235.500">(14)</text><text x="86" y="1266">(15)</text><text x="86" y="1297">(16)</text><text x="86" y="1328">(17)</text><text x="86" y="1375.500">(18)</text><text x="86" y="1421">(19)</text><text x="86" y="1452">(20)</text><text x="86" y="1483">(21)</text>
<text x="154" y="813">None</text><text x="154" y="844">DEV Hi</text><text x="154" y="875">DEV</text><text x="154" y="895.500">Low</text><text x="154" y="927">DEV Out</text><text x="154" y="957.500">DEV In</text><text x="154" y="988">PV Hi</text><text x="154" y="1019">PV Low</text><text x="154" y="1050">SV Hi</text><text x="154" y="1081">SV Low</text><text x="154" y="1112">AT</text><text x="154" y="1143">MAN</text><text x="154" y="1173.500">REM</text><text x="154" y="1205">RMP</text><text x="154" y="1235.500">STBY</text><text x="154" y="1266">SO</text><text x="154" y="1297">PV SO</text><text x="154" y="1328">REM SO</text><text x="154" y="1375.500">LOGIC</text><text x="154" y="1421">Direct</text><text x="154" y="1452">HBA</text><text x="154" y="1483">HLA</text>
<text x="638" y="1360">- - -</text><text x="699" y="1360">- - -</text><text x="524.400" y="1390">- - -</text><text x="581.300" y="1390">- - -</text><text x="699" y="1390">- - -</text><text x="524.400" y="1421">- - -</text><text x="581.300" y="1421">- - -</text><text x="638" y="1421">- - -</text>
</g>
<g class="w">
<text x="209.500" y="813">无作用</text><text x="209.500" y="844">上限偏差值</text><text x="209.500" y="885.500">下限偏差值</text><text x="209.500" y="927">上下限偏差值外</text><text x="209.500" y="957.500">上下限偏差值内</text><text x="209.500" y="988">PV上限绝对值</text><text x="209.500" y="1019">PV 下限绝对值</text><text x="209.500" y="1050">SV 上限绝对值</text><text x="209.500" y="1081">SV 下限绝对值</text><text x="211" y="1112">自整定运行</text><text x="209.500" y="1143">手动输出运行</text><text x="209.500" y="1173.500">遥控输入运行</text><text x="209.500" y="1205">斜率控制运行</text><text x="209.500" y="1235.500">脱机状态</text><text x="209.500" y="1266">PV, REM 超量程</text><text x="209.500" y="1297">PV 超量程</text><text x="209.500" y="1328">REM 超量程</text><text x="209.500" y="1360">逻辑运行 (AND, OR, XOR)</text><text x="209.500" y="1390">逻辑运行 (Timer/Count)</text><text x="209.500" y="1421">直接输出（选件）</text><text x="209.500" y="1452">加热器断线报警 (选件)</text><text x="209.500" y="1483">加热器环路报警 (选件)</text>
</g>
<use href="#r" y="807"/><use href="#r" y="838"/><use href="#r" y="868.600"/><use href="#r" y="920.700"/><use href="#r" y="951.400"/><use href="#r" y="982"/><use href="#r" y="1012.800"/><use href="#r" y="1043.600"/><use href="#r" y="1074.800"/><use href="#r" y="1106"/><use href="#r" y="1137"/><use href="#r" y="1167.500"/><use href="#r" y="1198.800"/><use href="#r" y="1229.500"/><use href="#r" y="1260"/><use href="#r" y="1291"/><use href="#r" y="1322"/><use href="#o" x="524.400" y="1353"/><use href="#o" x="581.300" y="1353"/><use href="#o" x="637.800" y="1384"/><use href="#o" x="699.300" y="1415"/><use href="#r" y="1446"/><use href="#r" y="1477"/>
<rect x="118" y="1494.500" width="49.600" height="17.500" fill="#bcbdc0" stroke="#333"/>
<text x="176" y="1512" font-weight="300" font-size="18" textLength="110.500">表示可以延时</text>
</g>
<g id="logo">
<text x="271" y="1742" font-size="28" font-weight="300" letter-spacing="50.500" style="font-feature-settings:normal">温度和湿度控制专家</text>
<text y="1809" font-size="60" stroke="#222" stroke-width="3" style="font-family:'Liberation Sans',sans-serif;font-weight:bold;font-feature-settings:normal"><tspan x="169" textLength="485" lengthAdjust="spacingAndGlyphs">SHIMADEN</tspan> <tspan x="685" textLength="148" lengthAdjust="spacingAndGlyphs">CO.,</tspan> <tspan x="862" textLength="168" lengthAdjust="spacingAndGlyphs">LTD.</tspan></text>
<g class="Lg"><text x="599" y="1853" textLength="306" lengthAdjust="spacingAndGlyphs">http://www.shimaden.co.jp/</text><text x="599" y="1896" textLength="764" lengthAdjust="spacingAndGlyphs">Head Office: 2-30-10 Kitamachi, Nerima-ku, Tokyo 179-0081 Japan</text><text x="599" y="1926" textLength="928" lengthAdjust="spacingAndGlyphs">Phone: +81-3-3931-7891 Fax: +81-3-3931-3089 E-mail:exp-dept@shimaden.co.jp</text></g>
</g>
</svg>
